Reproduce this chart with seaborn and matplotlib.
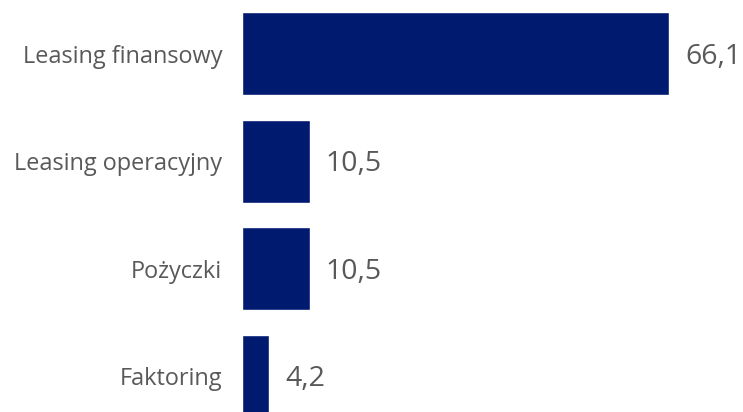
import numpy as np
import matplotlib
matplotlib.use('Agg')
import matplotlib.pyplot as plt
import seaborn as sns

sns.set_style('white')
plt.rcParams['font.family'] = ['Open Sans', 'DejaVu Sans']

categories = ['Leasing finansowy', 'Leasing operacyjny', 'Pożyczki', 'Faktoring']
values = [66.1, 10.5, 10.5, 4.2]
value_labels = ['66,1', '10,5', '10,5', '4,2']

fig = plt.figure(figsize=(7.43, 4.12), dpi=100)
ax = fig.add_axes([242 / 743, 0, 501 / 743, 1])

sns.barplot(x=values, y=categories, ax=ax, color='#001A70', saturation=1,
            width=0.77, orient='h')

ax.set_xlim(0, 77.5)
ax.set_ylim(3.33, -0.497)
ax.set_xticks([])
ax.set_xlabel('')
ax.set_ylabel('')
for s in ax.spines.values():
    s.set_visible(False)
ax.tick_params(axis='y', length=0, pad=14.4, labelsize=16.9, labelcolor='#595959')

for i, (v, lab) in enumerate(zip(values, value_labels)):
    ax.annotate(lab, (v, i), xytext=(16, -3), textcoords='offset pixels',
                va='center', ha='left', fontsize=20.5, color='#595959')

fig.savefig('out.png', dpi=100)
